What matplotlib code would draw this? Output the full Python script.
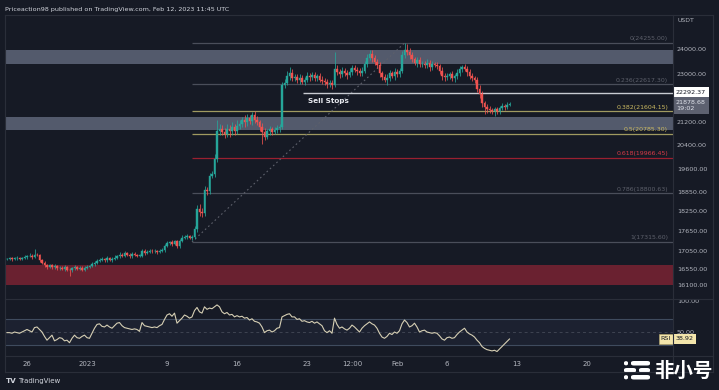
import numpy as np
import matplotlib
matplotlib.use('Agg')
import matplotlib.pyplot as plt
from matplotlib.patches import FancyBboxPatch
from matplotlib.lines import Line2D
from matplotlib.ticker import NullLocator

# BTC/USDT, 6h candles, first candle Dec 24 2022 (days counted from Jan 1 2023)
START_DAY = -8.0
STEP = 0.25
first_open = 16820

closes = [
    16830, 16850, 16820, 16840, 16860, 16830, 16850, 16870,
    16900, 16920, 16880, 16950, 16930,
    16800, 16720, 16650, 16600,
    16640, 16590, 16620, 16560,
    16580, 16540, 16600, 16520, 16500,
    16560, 16600, 16540, 16580, 16520, 16560, 16600,
    16620, 16680, 16720, 16760, 16800,
    16820, 16780, 16840, 16800, 16820, 16860, 16900,
    16950, 16920, 16980, 16940, 16900, 16960, 16930, 16920,
    16920, 17060, 17000, 17030, 17060, 17040,
    17050, 17020, 17060, 17080,
    17200, 17280, 17300, 17260, 17330,
    17200, 17350, 17440,
    17460, 17480, 17430, 17460,
    17710, 18310, 18230, 18180, 18910, 18880, 19370, 19420, 19930, 20900, 20950,
    20870, 20800, 20950, 20880, 21020, 20900, 21080,
    21150, 21280, 21200, 21350, 21250, 21480, 21300, 21200,
    21050, 20850, 20700,
    20880, 20950, 20870, 20920, 20990, 21050,
    22600, 22680, 22950, 23050, 22850,
    22900, 22780, 22850, 22720, 22800, 22950, 22900, 22980,
    22850, 22920, 22800, 22760,
    22700, 22620, 22680, 22600,
    23200, 23100, 23000, 23150, 23050, 22980, 23080,
    23230, 23180, 23120, 23050, 23150,
    23400, 23650, 23820, 23650, 23500, 23350, 23050,
    22900, 22800, 22850, 23050, 22950, 23100, 23000, 23150,
    23780, 23950, 23880, 23750, 23600, 23450, 23550, 23400,
    23420, 23350, 23450, 23300, 23400, 23380, 23320,
    23150, 22950, 22880, 22950, 23000, 22850, 22920, 23050,
    23200, 23280, 23220, 23100, 22950, 22850, 22800, 22450, 22250,
    21900, 21780, 21700, 21650, 21600, 21680, 21620, 21720, 21800, 21760, 21850, 21878.68,
]

# wick length above / below the candle body (USDT)
wick_up = [
    30, 40, 30, 50, 40, 30, 40, 60,
    50, 60, 40, 150, 40,
    40, 30, 50, 40,
    40, 30, 50, 40,
    30, 40, 50, 30, 40,
    40, 50, 30, 40, 30, 50, 40,
    40, 50, 40, 60, 40,
    50, 40, 60, 40, 50, 70, 50,
    60, 40, 70, 50, 40, 60, 50, 40,
    40, 60, 50, 40, 60, 50,
    50, 40, 60, 50,
    60, 70, 50, 60, 50,
    50, 60, 70,
    60, 80, 50, 60,
    80, 120, 150, 100, 120, 90, 100, 120, 150, 400, 200,
    150, 120, 200, 150, 180, 120, 200,
    150, 120, 180, 150, 120, 100, 150, 120,
    100, 120, 150,
    100, 120, 80, 100, 120, 100,
    120, 150, 200, 240, 150,
    120, 100, 150, 120, 100, 150, 120, 100,
    120, 100, 150, 120,
    100, 120, 100, 120,
    680, 150, 120, 150, 100, 120, 150,
    120, 150, 100, 120, 150,
    120, 150, 150, 150, 120, 100, 120,
    100, 120, 150, 120, 100, 150, 120, 100,
    150, 305, 250, 150, 120, 100, 150, 120,
    100, 120, 150, 100, 120, 100, 120,
    100, 120, 100, 120, 100, 120, 100, 150,
    120, 100, 120, 100, 120, 100, 80, 100, 120,
    100, 80, 100, 90, 80, 100, 80, 90, 100, 80, 90, 60,
]
wick_dn = [
    40, 30, 50, 30, 40, 50, 30, 40,
    40, 30, 50, 40, 30,
    50, 40, 60, 50,
    40, 60, 40, 50,
    50, 40, 60, 50, 150,
    40, 50, 40, 30, 50, 40, 30,
    40, 30, 50, 40, 30,
    40, 50, 30, 40, 50, 30, 40,
    40, 50, 30, 40, 50, 40, 30, 40,
    50, 40, 60, 40, 50, 40,
    40, 50, 40, 30,
    50, 40, 60, 50, 40,
    60, 50, 40,
    50, 60, 40, 50,
    60, 100, 150, 120, 100, 120, 100, 80, 100, 120, 150,
    120, 150, 100, 200, 120, 150, 100,
    120, 100, 150, 120, 100, 150, 120, 100,
    150, 410, 120,
    100, 120, 100, 80, 100, 120,
    100, 120, 100, 150, 120,
    100, 120, 150, 100, 120, 100, 150, 120,
    100, 120, 100, 150,
    120, 150, 100, 150,
    100, 120, 150, 100, 120, 150, 100,
    120, 100, 150, 120, 100,
    100, 120, 100, 150, 120, 100, 150,
    120, 100, 200, 120, 100, 150, 120, 100,
    100, 120, 100, 150, 120, 100, 150, 120,
    100, 120, 100, 150, 120, 100, 120,
    120, 150, 130, 100, 120, 100, 150, 100,
    100, 120, 100, 150, 120, 100, 150, 120, 150,
    150, 280, 150, 120, 100, 150, 120, 100, 80, 100, 80, 60,
]

rsi = [
    49, 49, 48, 50, 49, 48, 50, 52,
    54, 52, 50, 57, 58,
    54, 50, 43, 37,
    41, 45, 36, 38,
    41, 40, 36, 37, 33,
    40, 45, 41, 40, 43, 45, 41,
    40, 48, 56, 62, 63,
    59, 58, 61, 58, 56, 60, 64,
    65, 60, 57, 56, 55, 54, 55, 54,
    51, 65, 60, 59, 58, 57,
    58, 57, 60, 62,
    70, 77, 79, 75, 80,
    64, 68, 72,
    77, 75, 72, 74,
    84, 89, 82, 80, 90, 86, 88, 87, 90, 93, 90,
    82, 79, 81, 77, 78, 74, 76,
    74, 75, 72, 73, 69, 71, 67, 66,
    64, 58, 49,
    52, 53, 50, 52, 56, 57,
    74, 76, 78, 79, 74,
    74, 70, 71, 67, 68, 66, 65, 67,
    64, 66, 63, 60,
    52, 49, 52, 48,
    72, 62, 56, 58, 55, 53, 56,
    61, 58, 54, 50, 56,
    60, 63, 66, 63, 61, 56, 48,
    42, 40, 43, 48, 46, 50, 48, 52,
    63, 69, 65, 58, 60, 64, 58, 50,
    52, 53, 50, 49, 48, 49, 48,
    44, 39, 37, 41, 42, 40, 41, 46,
    50, 53, 56, 50, 47, 45, 42, 37, 33,
    27, 24, 22, 21, 20, 21, 19, 23, 27, 31, 35, 38.92,
]

price_ticks = [24000, 23000, 21200, 20400, 19600, 18850, 18250, 17650, 17050, 16550, 16100]
rsi_ticks = [100, 50]
date_ticks = [-6, 0, 8, 15, 22, 26.5, 31, 36, 43, 50]
date_labels = ['26', '2023', '9', '16', '23', '12:00', 'Feb', '6', '13', '20']

# fibonacci retracement drawn between the Jan 11 low and the Feb 2 high
fib_hi, fib_lo = 24255.00, 17315.60
fib_t = (10.5, 31.75)
fib_levels = [0, 0.236, 0.382, 0.5, 0.618, 0.786, 1]
fib_kind = ['gray', 'gray', 'yellow', 'yellow', 'red', 'gray', 'gray']

zones = [(23420, 23970, 'gray'), (20930, 21410, 'gray'), (16090, 16640, 'red')]
sell_stops, sell_stops_t = 22292.37, 21.6
last_price = 21878.68

BG = '#161a25'
UP, DOWN = '#26a69a', '#ef5350'
TXT = '#b2b5be'
LINE = '#2a2e39'
zone_col = {'gray': '#535a6c', 'red': '#6a2130'}
fib_line = {'gray': '#4a4e5a', 'yellow': '#a09a60', 'red': '#9a2030'}
fib_text = {'gray': '#5d606b', 'yellow': '#cdbb62', 'red': '#d83a48'}

W, H = 719, 390
fig = plt.figure(figsize=(W / 100, H / 100), dpi=100)
fig.patch.set_facecolor(BG)


def box(x0, y0, x1, y1):
    return [x0 / W, 1 - y1 / H, (x1 - x0) / W, (y1 - y0) / H]


ax = fig.add_axes(box(5, 15, 672.7, 298))
ax2 = fig.add_axes(box(5, 298, 672.7, 356), sharex=ax)
for a in (ax, ax2):
    a.set_facecolor(BG)
    for s in a.spines.values():
        s.set_visible(False)

XMIN, XMAX = -8.2, 58.57

# ---- main pane
ax.set_yscale('log')
for lo_, hi_, kind in zones:
    ax.axhspan(lo_, hi_, color=zone_col[kind], lw=0, zorder=1)

for lev, kind in zip(fib_levels, fib_kind):
    p = fib_hi - lev * (fib_hi - fib_lo)
    ax.hlines(p, fib_t[0], XMAX, color=fib_line[kind], lw=0.9, zorder=2)
    ax.annotate(f'{lev:g}({p:.2f})', xy=(0.993, p), xycoords=('axes fraction', 'data'),
                xytext=(0, 1.2), textcoords='offset points', ha='right', va='bottom',
                fontsize=4.5, color=fib_text[kind], zorder=6)
ax.plot(fib_t, [fib_lo, fib_hi], color='#5d606b', lw=0.8, ls=(0, (1.5, 2.5)), zorder=2)

ax.hlines(sell_stops, sell_stops_t, XMAX, color='#c8cbd2', lw=1.0, zorder=2)
ax.annotate('Sell Stops', xy=(sell_stops_t + 0.45, sell_stops), xytext=(0, -6.2),
            textcoords='offset points', ha='left', va='center', fontsize=5.2,
            fontweight='bold', color='#e6e8ee', zorder=6)

t = START_DAY + STEP * np.arange(len(closes))
c = np.array(closes, float)
o = np.concatenate([[first_open], c[:-1]])
hi = np.maximum(o, c) + np.array(wick_up)
lo = np.minimum(o, c) - np.array(wick_dn)
col = np.where(c >= o, UP, DOWN)
ax.vlines(t, lo, hi, colors=col, lw=0.55, zorder=4)
ax.bar(t, np.maximum(np.abs(c - o), 12), bottom=np.minimum(o, c), width=0.16,
       color=col, edgecolor=col, lw=0.3, zorder=5)

ax.set_xlim(XMIN, XMAX)
ax.set_ylim(15746, 25433)
ax.yaxis.tick_right()
ax.set_yticks(price_ticks, labels=[f'{v:.2f}' for v in price_ticks])
ax.yaxis.set_minor_locator(NullLocator())
ax.tick_params(axis='y', length=0, pad=3, labelsize=4.6, labelcolor=TXT)
ax.tick_params(axis='x', length=0, labelbottom=False)

ax.annotate(f'{sell_stops:.2f}', xy=(1, sell_stops), xycoords=('axes fraction', 'data'),
            xytext=(2.2, 0), textcoords='offset points', ha='left', va='center',
            fontsize=4.6, color='#131722', annotation_clip=False,
            bbox=dict(boxstyle='square,pad=0.45', fc='#ffffff', ec='none'))
ax.annotate(f'{last_price:.2f}\n19:02', xy=(1, last_price), xycoords=('axes fraction', 'data'),
            xytext=(2.2, 2.6), textcoords='offset points', ha='left', va='top',
            fontsize=4.6, color='#e0e3eb', linespacing=1.1, annotation_clip=False,
            bbox=dict(boxstyle='square,pad=0.45', fc='#5d6170', ec='none'))

# ---- RSI pane
ax2.axhspan(30, 70, color='#1c2130', lw=0, zorder=0)
ax2.axhline(70, color='#3f4b5e', lw=0.8)
ax2.axhline(30, color='#3f4b5e', lw=0.8)
ax2.axhline(50, color='#3f4452', lw=0.7, ls=(0, (3, 3)))
ax2.plot(t, rsi, color='#d6cfb4', lw=0.8, zorder=3)
ax2.set_ylim(11.9, 104)
ax2.yaxis.tick_right()
ax2.set_yticks(rsi_ticks, labels=[f'{v:.2f}' for v in rsi_ticks])
ax2.tick_params(axis='y', length=0, pad=3, labelsize=4.6, labelcolor=TXT)
ax2.set_xticks(date_ticks, labels=date_labels)
ax2.tick_params(axis='x', length=0, pad=3.5, labelsize=5, labelcolor=TXT)
ax2.set_xlim(XMIN, XMAX)
ax2.annotate(f'{rsi[-1]:.2f}', xy=(1, rsi[-1]), xycoords=('axes fraction', 'data'),
             xytext=(2.2, 0), textcoords='offset points', ha='left', va='center',
             fontsize=4.6, color='#131722', annotation_clip=False,
             bbox=dict(boxstyle='square,pad=0.35', fc='#f3e5ab', ec='none'))
ax2.annotate('RSI', xy=(0.9975, rsi[-1]), xycoords=('axes fraction', 'data'),
             ha='right', va='center', fontsize=4.6, color='#131722',
             bbox=dict(boxstyle='square,pad=0.35', fc='#f3e5ab', ec='#b8a970', lw=0.4))

# ---- frame lines
def fline(xs, ys):
    fig.add_artist(Line2D([x / W for x in xs], [1 - y / H for y in ys], color=LINE, lw=0.8))


fline([5, 712.5], [15, 15])
fline([5, 712.5], [298.5, 298.5])
fline([5, 712.5], [356, 356])
fline([5, 712.5], [372, 372])
fline([5, 5], [15, 372])
fline([672.7, 672.7], [15, 372])
fline([712.5, 712.5], [15, 372])

fig.text(5 / W, 1 - 9 / H, 'Priceaction98 published on TradingView.com, Feb 12, 2023 11:45 UTC',
         fontsize=4.6, color='#d1d4dc', va='center', ha='left')
fig.text(677 / W, 1 - 21 / H, 'USDT', fontsize=4.4, color=TXT, va='center', ha='left')
fig.text(6 / W, 1 - 381 / H, 'TV', fontsize=5.2, fontweight='bold', color='#d1d4dc',
         va='center', ha='left')
fig.text(18 / W, 1 - 381 / H, 'TradingView', fontsize=5, color='#d1d4dc', va='center', ha='left')

# watermark
for x0, y0, w, h in [(624, 361, 4, 4.5), (631, 361, 19, 4.5), (624, 368, 12, 4.5),
                     (639, 368, 11, 4.5), (624, 375, 4, 4.5), (631, 375, 19, 4.5)]:
    fig.add_artist(FancyBboxPatch((x0 / W, 1 - (y0 + h) / H), w / W, h / H,
                                  boxstyle='round,pad=0,rounding_size=0.004',
                                  fc='white', ec='none', transform=fig.transFigure))
fig.text(683 / W, 1 - 371 / H, '非小号', family=['Noto Sans CJK SC', 'DejaVu Sans'],
         fontsize=14, fontweight='bold', color='white', ha='center', va='center')

fig.savefig('out.png', dpi=100, facecolor=BG)
